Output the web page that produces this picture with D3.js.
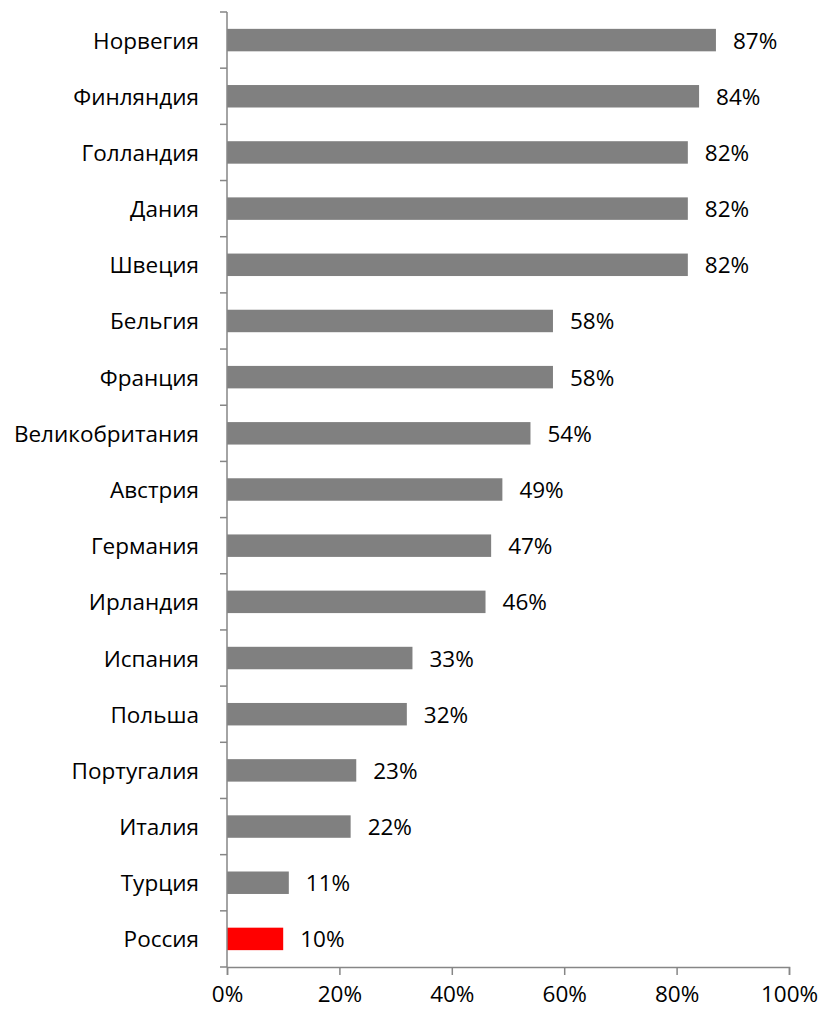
<!DOCTYPE html>
<html><head><meta charset="utf-8">
<script src="https://cdn.jsdelivr.net/npm/d3@7"></script>
<style>body{margin:0;background:#fff}svg{display:block}</style>
</head><body>
<svg id="c" width="822" height="1010"></svg>
<script>
const categories = ["Норвегия","Финляндия","Голландия","Дания","Швеция","Бельгия","Франция","Великобритания","Австрия","Германия","Ирландия","Испания","Польша","Португалия","Италия","Турция","Россия"];
const values = [87,84,82,82,82,58,58,54,49,47,46,33,32,23,22,11,10];
const highlight = ["Россия"];
const xTicks = [0,20,40,60,80,100];

const svg = d3.select("#c");
const font = "'Open Sans', sans-serif";
const fs = 22.5;
const x = d3.scaleLinear().domain([0,100]).range([227,789]);
const y = d3.scaleBand().domain(categories).range([12,967]).paddingInner(0.6).paddingOuter(0.3);
const axisColor = "#868686";

// bars
svg.selectAll("rect.bar").data(categories).enter().append("rect")
  .attr("x", x(0)).attr("y", d=>y(d))
  .attr("width", (d,i)=>x(values[i])-x(0))
  .attr("height", y.bandwidth())
  .attr("fill", d=>highlight.includes(d)?"#ff0000":"#808080");

// value labels
svg.selectAll("text.val").data(categories).enter().append("text")
  .attr("x", (d,i)=>x(values[i])+17).attr("y", d=>y(d)+y.bandwidth()/2)
  .attr("dominant-baseline","central")
  .attr("font-family",font).attr("font-size",fs).attr("fill","#000")
  .text((d,i)=>values[i]+"%");

// y axis line and ticks at band boundaries
const step = y.step();
svg.append("line").attr("x1",x(0)).attr("x2",x(0)).attr("y1",12).attr("y2",967)
  .attr("stroke",axisColor).attr("stroke-width",1.5);
const bounds = d3.range(categories.length+1).map(i=>12+i*step);
svg.selectAll("line.yt").data(bounds).enter().append("line")
  .attr("x1",x(0)-7).attr("x2",x(0)).attr("y1",d=>d).attr("y2",d=>d)
  .attr("stroke",axisColor).attr("stroke-width",1.5);

// category labels
svg.selectAll("text.cat").data(categories).enter().append("text")
  .attr("x",199).attr("y",d=>y(d)+y.bandwidth()/2)
  .attr("text-anchor","end").attr("dominant-baseline","central")
  .attr("font-family",font).attr("font-size",fs).attr("fill","#000")
  .text(d=>d);

// x axis
const xa = svg.append("g").attr("transform","translate(0,967)")
  .call(d3.axisBottom(x).tickValues(xTicks).tickFormat(d=>d+"%").tickSize(8).tickPadding(11));
xa.select(".domain").attr("stroke",axisColor).attr("stroke-width",1.5);
xa.selectAll(".tick line").attr("stroke",axisColor).attr("stroke-width",1.5);
xa.selectAll(".tick text").attr("font-family",font).attr("font-size",fs).attr("fill","#000");
</script>
</body></html>
